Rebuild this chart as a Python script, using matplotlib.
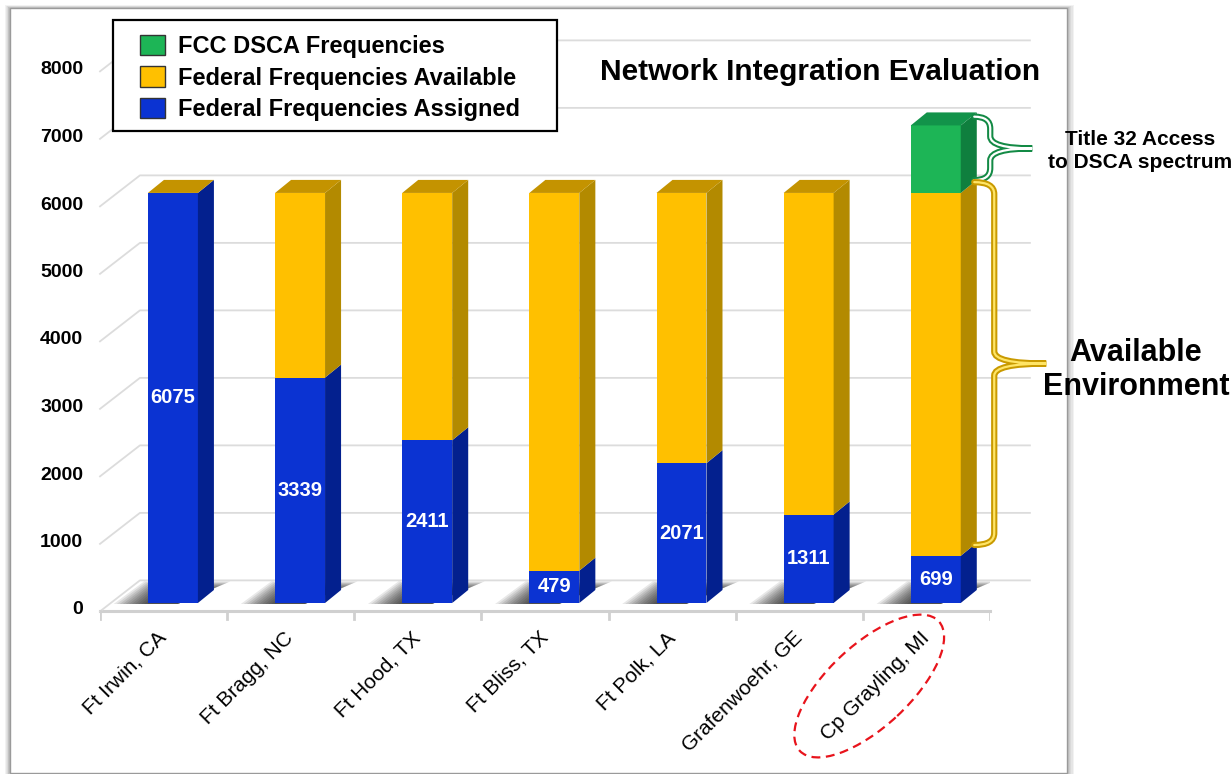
import numpy as np
import matplotlib
matplotlib.use('Agg')
import matplotlib.pyplot as plt
from matplotlib.patches import Polygon, Patch, Rectangle, Ellipse, PathPatch
from matplotlib.path import Path
from matplotlib.transforms import IdentityTransform, ScaledTranslation

plt.rcParams['font.family'] = ['Liberation Sans', 'DejaVu Sans']

# data
sites = ['Ft Irwin, CA', 'Ft Bragg, NC', 'Ft Hood, TX', 'Ft Bliss, TX',
         'Ft Polk, LA', 'Grafenwoehr, GE', 'Cp Grayling, MI']
assigned = [6075, 3339, 2411, 479, 2071, 1311, 699]
available = [0, 2736, 3664, 5596, 4004, 4764, 5376]
dsca = [0, 0, 0, 0, 0, 0, 1000]
yticks = [0, 1000, 2000, 3000, 4000, 5000, 6000, 7000, 8000]

series = [
    ('Federal Frequencies Assigned', assigned, '#0b33d2', '#03208e', '#03208e'),
    ('Federal Frequencies Available', available, '#ffc000', '#b38a00', '#c49300'),
    ('FCC DSCA Frequencies', dsca, '#1db556', '#0f7f3e', '#12934a'),
]

W_PX, H_PX = 1232, 774
fig = plt.figure(figsize=(W_PX / 100, H_PX / 100), dpi=100)


def fx(px):
    return px / W_PX


def fy(py):
    return 1 - py / H_PX


# axes: x 0..7 -> px 100..990 ; value 0 -> px 603, 67.5 px per 1000
ymin, ymax = -1000, 8600
ax = fig.add_axes([fx(100), fy(603 + ymin * -0.0675), fx(890),
                   (ymax - ymin) * 0.0675 / H_PX])
ax.set_xlim(0, 7)
ax.set_ylim(ymin, ymax)
ax.patch.set_visible(False)
for s in ax.spines.values():
    s.set_visible(False)

# frame with soft shadow
for k in range(6, 0, -1):
    fig.add_artist(Rectangle((fx(10 - k * 0.8), fy(773 + k * 0.3)),
                             fx(1057 + k * 1.9), (765 + k * 0.8) / H_PX,
                             transform=fig.transFigure, facecolor='black',
                             alpha=0.05, edgecolor='none', zorder=-10))
fig.add_artist(Rectangle((fx(10), fy(773)), fx(1057), 765 / H_PX,
                         transform=fig.transFigure, facecolor='white',
                         edgecolor='#9a9a9a', lw=1.0, zorder=-9))

nc = len(sites)
GX, G_FRONT, G_BACK = 0.314, -124, 335   # back-plane offset of grid/floor
BW, DX, DY = 0.393, 0.126, 193           # bar front width and 3D depth
x0 = np.arange(nc) + 0.377

# back-plane gridlines
for v in yticks[1:]:
    ax.plot([0, GX, nc + GX], [v + G_FRONT, v + G_BACK, v + G_BACK],
            color='#dcdcdc', lw=1.3, zorder=0.5, clip_on=False)

# floor
ax.plot([0, nc], [G_FRONT, G_FRONT], color='#d0d0d0', lw=2.2, zorder=0.6, clip_on=False)
ax.plot([0, GX, nc + GX], [G_FRONT, G_BACK, G_BACK], color='#dcdcdc', lw=1.3,
        zorder=0.6, clip_on=False)
for i in range(nc + 1):
    ax.plot([i, i], [G_FRONT, G_FRONT - 110], color='#d0d0d0', lw=2, zorder=0.6)

# soft floor shadows, darkest just left of each bar
for i in range(nc):
    for k in range(12):
        g = 0.016 * k
        sh = Polygon([(x0[i] - 0.27 + 1.5 * g, -15), (x0[i] + BW * 0.6, -15),
                      (x0[i] + BW + DX + 0.13 - g, 320 - 12 * k),
                      (x0[i] - 0.03 + 0.8 * g, 320 - 12 * k)],
                     closed=True, facecolor='black', alpha=0.09,
                     edgecolor='none', zorder=1)
        ax.add_patch(sh)

# 3D stacked bars
bottom = np.zeros(nc)
for name, vals, front, side, top in series:
    vals = np.array(vals, dtype=float)
    ax.bar(x0, vals, BW, bottom=bottom, align='edge', color=front,
           edgecolor='none', zorder=3)
    for i in range(nc):
        if vals[i] <= 0:
            continue
        b, t = bottom[i], bottom[i] + vals[i]
        ax.add_patch(Polygon([(x0[i] + BW, b), (x0[i] + BW + DX, b + DY),
                              (x0[i] + BW + DX, t + DY), (x0[i] + BW, t)],
                             closed=True, facecolor=side, edgecolor='none', zorder=3))
    bottom = bottom + vals

# top faces take the colour of the upper series
for i in range(nc):
    top_col = series[2][4] if dsca[i] > 0 else series[1][4]
    t = bottom[i]
    ax.add_patch(Polygon([(x0[i], t), (x0[i] + DX, t + DY),
                          (x0[i] + BW + DX, t + DY), (x0[i] + BW, t)],
                         closed=True, facecolor=top_col, edgecolor='none', zorder=3))

# value labels
for i in range(nc):
    ax.text(x0[i] + BW / 2, assigned[i] / 2, str(assigned[i]), color='white',
            fontsize=14.5, fontweight='bold', ha='center', va='center', zorder=5)

# y tick labels
ax.set_xticks([])
ax.set_yticks(yticks)
ax.set_yticklabels([str(v) for v in yticks], fontsize=14, fontweight='bold')
ax.tick_params(axis='y', length=0, pad=12)
for lab in ax.get_yticklabels():
    lab.set_transform(lab.get_transform() + ScaledTranslation(0, -0.05, fig.dpi_scale_trans))

# category labels
for i, s in enumerate(sites):
    ax.text(i + 0.5, -470, s, rotation=45, ha='right', va='center',
            rotation_mode='anchor', fontsize=15, clip_on=False)

# red dashed ellipse around Cp Grayling
cx, cy = ax.transData.transform((6.05, -1230))
fig.add_artist(Ellipse((cx, cy), 190, 82, angle=43, transform=IdentityTransform(),
                       fill=False, edgecolor='#e8141c', lw=1.6, ls=(0, (4, 2.5))))


# braces
def brace(xd, y0, y1, reach, tip, outer, inner):
    X, Y0 = ax.transData.transform((xd, y0))
    _, Y1 = ax.transData.transform((xd, y1))
    a, m, r = X + reach, (Y0 + Y1) / 2, 12
    verts = [(X, Y1), (a, Y1), (a, Y1 - r), (a, m + r), (a, m), (X + tip, m),
             (a, m), (a, m - r), (a, Y0 + r), (a, Y0), (X, Y0)]
    codes = [Path.MOVETO, Path.CURVE3, Path.CURVE3, Path.LINETO, Path.CURVE3,
             Path.CURVE3, Path.CURVE3, Path.CURVE3, Path.LINETO, Path.CURVE3, Path.CURVE3]
    p = Path(verts, codes)
    fig.add_artist(PathPatch(p, fill=False, edgecolor=outer, lw=4.5,
                             transform=IdentityTransform(), capstyle='round'))
    fig.add_artist(PathPatch(p, fill=False, edgecolor=inner, lw=1.6,
                             transform=IdentityTransform(), capstyle='round'))


xr = x0[-1] + BW + DX
brace(xr - 0.02, assigned[-1] + available[-1] + 190, bottom[-1] + 130, 16, 58,
      '#138a45', 'white')
brace(xr - 0.02, assigned[-1] + 160, assigned[-1] + available[-1] + 160, 20, 72,
      '#c99a00', '#ffe566')

# legend: box drawn separately, entries through fig.legend
fig.add_artist(Rectangle((fx(113), fy(131)), fx(444), 111 / H_PX,
                         transform=fig.transFigure, facecolor='white',
                         edgecolor='black', lw=1.6, zorder=9))
handles = [Patch(facecolor=series[k][2], edgecolor='#333333', lw=1.0) for k in (2, 1, 0)]
labels = [series[k][0] for k in (2, 1, 0)]
leg = fig.legend(handles, labels, loc='upper left', bbox_to_anchor=(fx(140), fy(35)),
                 bbox_transform=fig.transFigure, borderaxespad=0, borderpad=0,
                 frameon=False, handlelength=1.05, handleheight=0.95,
                 handletextpad=0.55, labelspacing=0.34,
                 prop={'size': 17, 'weight': 'bold'})
leg.set_zorder(10)

# titles and notes
fig.text(fx(820), fy(72), 'Network Integration Evaluation', fontsize=21.5,
         fontweight='bold', ha='center', va='center')
fig.text(fx(1140), fy(151), 'Title 32 Access\nto DSCA spectrum', fontsize=15,
         fontweight='bold', ha='center', va='center', linespacing=1.25)
fig.text(fx(1136), fy(370), 'Available\nEnvironment', fontsize=22,
         fontweight='bold', ha='center', va='center', linespacing=1.18)

fig.savefig('out.png', dpi=100)
